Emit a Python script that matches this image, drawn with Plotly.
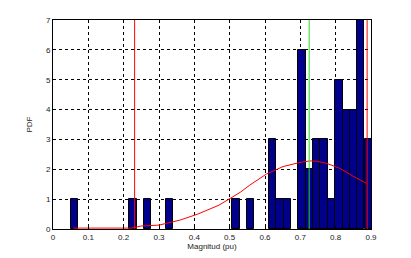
import plotly.graph_objects as go

# Histogram bins (centres) and heights
bin_centers = [0.060, 0.226, 0.268, 0.330, 0.518, 0.559, 0.621, 0.642, 0.663,
               0.705, 0.726, 0.746, 0.767, 0.788, 0.809, 0.830, 0.850, 0.871, 0.892]
counts = [1, 1, 1, 1, 1, 1, 3, 1, 1, 6, 2, 3, 3, 1, 5, 4, 4, 7, 3]
bin_width = 0.0208

# Fitted PDF curve
curve_x = [0.0575, 0.10, 0.15, 0.20, 0.222, 0.25, 0.30, 0.36, 0.41, 0.47, 0.50,
           0.53, 0.557, 0.604, 0.651, 0.699, 0.727, 0.746, 0.774, 0.812, 0.849, 0.887]
curve_y = [0.03, 0.03, 0.03, 0.03, 0.03, 0.10, 0.13, 0.30, 0.50, 0.80, 1.02,
           1.23, 1.47, 1.84, 2.09, 2.23, 2.28, 2.27, 2.20, 2.03, 1.77, 1.53]

# Vertical marker lines
red_lines = [0.231, 0.889]
green_lines = [0.725]

x_ticks = [0, 0.1, 0.2, 0.3, 0.4, 0.5, 0.6, 0.7, 0.8, 0.9]
x_tick_labels = ["0", "0.1", "0.2", "0.3", "0.4", "0.5", "0.6", "0.7", "0.8", "0.9"]
y_ticks = [0, 1, 2, 3, 4, 5, 6, 7]

fig = go.Figure()
fig.add_trace(go.Bar(x=bin_centers, y=counts, width=bin_width,
                     marker=dict(color="#00008B", line=dict(color="black", width=1)),
                     showlegend=False))
fig.add_trace(go.Scatter(x=curve_x, y=curve_y, mode="lines",
                         line=dict(color="red", width=1), showlegend=False))
for xv in green_lines:
    fig.add_trace(go.Scatter(x=[xv, xv], y=[0, 7], mode="lines",
                             line=dict(color="#22dd22", width=1), showlegend=False))
for xv in red_lines:
    fig.add_trace(go.Scatter(x=[xv, xv], y=[0, 7], mode="lines",
                             line=dict(color="red", width=1), showlegend=False))

fig.update_layout(
    width=411, height=258,
    margin=dict(l=45, r=48, t=12, b=37, autoexpand=False),
    paper_bgcolor="white", plot_bgcolor="white",
    font=dict(family="Liberation Sans, Arial, sans-serif", size=8, color="#222"),
    bargap=0,
)
fig.update_xaxes(range=[0, 0.9], tickvals=x_ticks, ticktext=x_tick_labels,
                 showgrid=True, gridcolor="black", griddash="3px,3px", gridwidth=1,
                 showline=True, linecolor="black", linewidth=1, mirror=True,
                 zeroline=False, ticks="inside", ticklen=3, tickcolor="black",
                 automargin=False,
                 title=dict(text="Magnitud (pu)", standoff=2, font=dict(size=8)))
fig.update_yaxes(range=[0, 7], tickvals=y_ticks,
                 showgrid=True, gridcolor="black", griddash="3px,3px", gridwidth=1,
                 showline=True, linecolor="black", linewidth=1, mirror=True,
                 zeroline=False, ticks="inside", ticklen=3, tickcolor="black",
                 automargin=False,
                 title=dict(text="PDF", standoff=12, font=dict(size=8)))

fig.write_html("out.html")
